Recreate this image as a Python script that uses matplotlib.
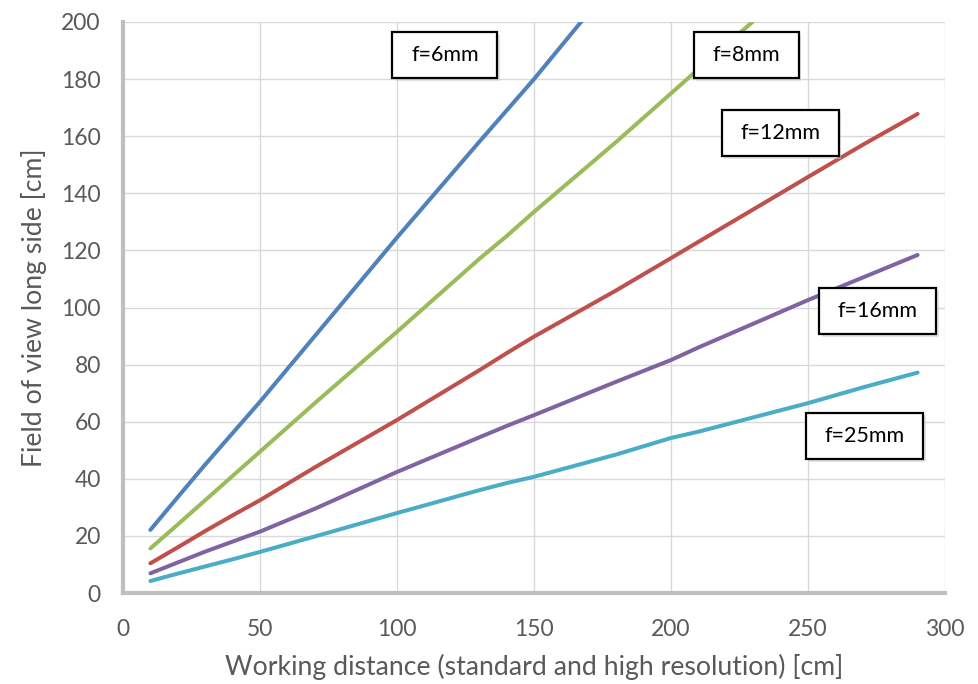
import matplotlib
matplotlib.use("Agg")
import matplotlib.pyplot as plt
from matplotlib.patches import Rectangle

plt.rcParams['font.family'] = ['Lato', 'DejaVu Sans']

# Working distance [cm]
distance = [10, 20, 30, 40, 50, 70, 100, 130, 140, 150, 180, 200, 210, 250, 270, 290]

# Field of view, long side [cm], per focal length
fov_6mm = [22.1, 33.6, 45, 56, 67, 90, 124.5, 158, 169, 180, 215, 238, 249, 295, 318, 341]
fov_8mm = [15.6, 24, 32.5, 41, 49.5, 66.5, 91.5, 117, 125, 133.5, 158, 175, 183.5, 217, 234, 251]
fov_12mm = [10.4, 16, 21.7, 27.2, 32.5, 44, 60.6, 78, 84, 89.8, 106, 117.3, 123, 145.7, 157, 167.8]
fov_16mm = [6.9, 10.7, 14.5, 18, 21.5, 29.5, 42.4, 54.5, 58.5, 62.3, 74, 81.6, 86, 102.6, 110.5, 118.4]
fov_25mm = [4.2, 6.8, 9.3, 11.8, 14.4, 19.8, 28, 36, 38.5, 40.7, 48.5, 54.3, 56.5, 66.5, 72, 77.2]

series_labels = ["f=6mm", "f=8mm", "f=12mm", "f=16mm", "f=25mm"]
series_values = [fov_6mm, fov_8mm, fov_12mm, fov_16mm, fov_25mm]
colors = ["#4F81BD", "#9BBB59", "#C0504D", "#8064A2", "#4BACC6"]

x_ticks = [0, 50, 100, 150, 200, 250, 300]
y_ticks = [0, 20, 40, 60, 80, 100, 120, 140, 160, 180, 200]

# label box centres (data coords) and box sizes (data units)
label_pos = [(117.5, 188.4), (227.4, 188.4), (240.0, 161.0), (275.5, 98.8), (270.8, 55.0)]
label_box = [(38.3, 16.2), (38.3, 16.2), (42.7, 16.2), (42.7, 16.2), (42.7, 16.2)]

fig = plt.figure(figsize=(9.79, 6.84), dpi=100)
ax = fig.add_axes([123 / 979, 1 - 593 / 684, (945 - 123) / 979, (593 - 22) / 684])

for vals, c in zip(series_values, colors):
    ax.plot(distance, vals, color=c, lw=2.9, solid_capstyle='round', solid_joinstyle='round', zorder=3)

ax.set_xlim(0, 300)
ax.set_ylim(0, 200)
ax.set_xticks(x_ticks)
ax.set_yticks(y_ticks)
ax.grid(True, color="#D9D9D9", lw=1.0, zorder=0)
ax.set_axisbelow(True)
for s in ["top", "right"]:
    ax.spines[s].set_visible(False)
for s in ["left", "bottom"]:
    ax.spines[s].set_color("#BFBFBF")
    ax.spines[s].set_linewidth(3)
    ax.spines[s].set_zorder(2)
ax.tick_params(axis='both', length=0, labelsize=16.5, labelcolor="#595959")
ax.tick_params(axis='x', pad=19)
ax.tick_params(axis='y', pad=16)

ax.set_xlabel("Working distance (standard and high resolution) [cm]", fontsize=19.2,
              color="#595959", labelpad=10)
ax.set_ylabel("Field of view long side [cm]", fontsize=19.2, color="#595959", labelpad=10)

for text, (cx, cy), (bw, bh) in zip(series_labels, label_pos, label_box):
    shadow = Rectangle((cx - bw / 2 + 0.8, cy - bh / 2 - 0.9), bw, bh, facecolor="#C8C8C8",
                       edgecolor="none", alpha=0.5, zorder=4, clip_on=False)
    ax.add_patch(shadow)
    box = Rectangle((cx - bw / 2, cy - bh / 2), bw, bh, facecolor="white",
                    edgecolor="black", lw=1.6, zorder=5, clip_on=False)
    ax.add_patch(box)
    ax.text(cx, cy, text, ha='center', va='center', fontsize=15.5, color="black", zorder=6)

fig.savefig("out.png", dpi=100)
